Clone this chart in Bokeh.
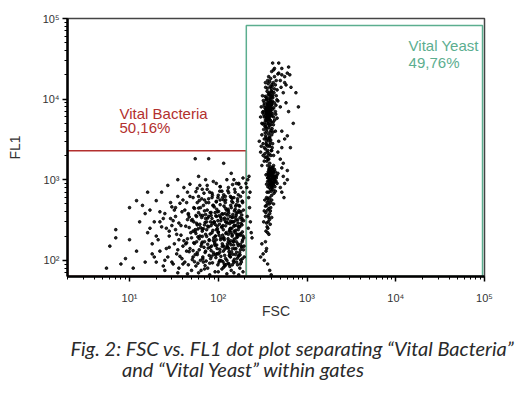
from bokeh.plotting import figure
from bokeh.models import (FixedTicker, CustomJSTickFormatter, Label, Title, ColumnDataSource)
from bokeh.embed import file_html
from bokeh.resources import INLINE

# ---------------- data ----------------
bact_fsc = [45,62,78,55,90,110,70,38,85,120, 50,65,95,130,150,175,42,58,88,105,
            140,160,185,33,72,48,115,135,160,190, 28,36,52,68,82,100,125,145,170,195,
            60,80,100,120,150,170,40,30,25,22, 57,66,74,92,108,128,142,155,180,165,
            47,53,76,98,112,138,62,84,44,39, 70,88,102,118,132,148,165,182,28,34,
            56,64,76,92,110,140,175,50,40,25, 63,78,96,116,136,152,188,26,31,46,
            54,67,81,103,124,146,168,190,35,45, 58,75,95,130,160,110,85,70,120,180,
            20,18,22,30,24,19,36,43,49,57, 83,93,106,127,133,158,172,186,178,196,
            6,7,7,9,10,10,12,13,15,16, 17,14,12,20,23,27,35,48,60,55,
            78,115,150,190,8,5.5,11,15,16,140,
            42,51,59,67,73,79,86,94,99,107,113,121,129,137,144,152,161,169,177,186,37,46,55,63,71,89,104,117,133,156,
            40,47,54,61,69,76,83,91,97,104,111,119,126,134,141,149,158,166,174,183,35,44,58,66,81,96,114,131,147,192,
            38,45,52,59,66,72,79,87,93,100,107,114,122,129,136,143,151,160,168,177,187,33,41,56,74,89,117,139,163,194,
            36,43,51,58,65,71,78,85,92,99,106,113,121,128,135,143,150,158,167,176,185,29,47,63,82,97,118,146,171,193,
            39,46,53,60,68,75,83,90,98,105,113,121,130,138,146,155,164,174,184,32,56,72,94,126,160,192,
            44,52,61,69,78,86,95,104,112,121,131,142,153,165,178,37,66,99,137,186,
            62,88,105,125,170,145,72,41,
            18,21,23,26,28,30,32,34,19,24,27,31,33,20,25,29,17,22,
            45,60,80,100,125,150,170,190,70,115,35,135,
            52,58,64,71,77,84,91,97,104,111,118,125,132,139,146,153,161,168,176,184,
            55,61,68,74,81,88,95,102,109,116,123,130,137,144,151,158,165,172,180,188,
            50,57,63,70,76,83,90,96,103,110,117,124,131,138,145,152,159,166,173,181,
            54,60,67,73,80,87,94,101,108,115,122,129,136,143,150,157,164,171,179,187,
            53,59,66,72,79,86,93,100,107,114,121,128,135,142,149,156,163,170,178,185,
            48,56,65,75,85,95,105,115,128,140,155,170]
bact_fl1 = [320,280,350,240,300,260,410,270,220,380, 190,160,180,210,300,260,420,520,480,560,
            450,380,330,350,130,140,150,120,170,200, 230,180,110,95,105,120,100,140,115,150,
            620,700,640,520,600,480,560,460,380,300, 350,230,300,390,330,290,250,220,400,540,
            255,300,265,245,205,175,200,150,130,105, 170,125,95,85,90,98,88,95,145,120,
            85,75,80,72,78,75,80,75,90,100, 450,520,430,470,350,410,520,250,310,380,
            440,360,390,360,420,520,650,700,620,700, 780,850,900,800,900,720,600,560,620,800,
            200,160,130,95,85,110,80,160,220,170, 270,200,180,160,230,270,210,170,135,110,
            150,240,190,105,450,180,130,300,380,220, 420,480,550,550,700,850,1000,880,1100,1820,
            1820,1600,1000,1050,90,80,80,95,700,1200,
            95,102,92,110,98,115,93,108,88,112,96,105,92,110,88,103,95,112,90,104,112,88,118,100,86,118,100,90,115,118,
            150,128,162,135,145,158,132,168,140,126,160,138,150,165,128,155,140,160,125,148,135,165,125,168,145,155,130,140,170,135,
            205,185,230,195,245,210,180,235,200,225,190,240,215,185,245,200,230,190,240,205,225,240,175,215,240,190,180,220,210,190,
            290,265,320,275,340,295,260,330,280,310,345,270,300,325,285,340,265,315,290,340,275,330,345,255,300,265,335,300,260,310,
            400,370,450,390,480,420,360,460,400,490,375,440,410,480,370,430,395,470,365,420,360,370,355,365,490,420,
            520,600,550,680,580,640,530,720,600,560,690,540,760,580,620,510,760,600,620,540,
            850,950,820,1000,880,870,1000,800,
            120,180,260,140,200,270,160,210,300,330,110,90,450,95,75,520,250,400,
            68,70,66,72,68,70,66,72,78,82,70,84,
            132,118,150,125,142,112,158,121,137,149,115,144,128,156,119,139,126,152,117,146,
            228,185,247,198,212,176,239,205,258,190,221,172,250,208,183,236,195,264,214,179,
            312,288,365,275,334,392,298,351,280,377,320,296,385,306,342,271,359,318,393,287,
            96,445,104,520,92,480,118,405,99,560,88,430,112,590,94,470,106,415,101,540,
            165,245,198,330,176,288,152,222,310,186,268,145,236,298,172,341,205,262,158,315,
            620,710,580,760,680,540,820,650,730,600,700,900]

yeast_fsc = [330,350,370,360,340,380,400,390,410,350, 320,330,345,365,385,420,430,375,355,395,
             310,325,338,352,372,392,415,440,450,425, 360,345,335,375,388,402,368,382,405,418,
             440,460,470,300,305,315,342,365,390,430, 480,520,560,600,640,470,510,540,580,620,
             500,460,520,600,380,350,330,400,440,310,
             320,340,360,375,350,330,380,395,410,300, 290,310,345,365,420,305,355,385,335,370,
             380,400,420,390,410,430,370,360,440,450, 395,375,415,355,425,385,405,365,345,435,
             460,400,380,420,350,470,520,540,560,500, 390,410,372,398,428,382,360,415,445,395,
             370,350,360,380,340,365,355,345,375,390, 335,400,330,385,360,420,350,400,325,370,
             340,350,320,330,360,380,310,300,395,345,
             215,210,220,225,212,230,218,235,240,205,228,222,
             550,600,650,700,800,750,560,620,480,420,660,
             340,352,364,372,386,398,356,346,378,392, 334,348,362,376,394,408,422,412,396,384,
             328,338,326,316,322,366,402,380,358,428, 350,368,386,404,418,432,444,446,458,336,
             342,360,377,393,415,318,372,388,354,368, 330,346,362,378,392,405,352,366,338,320,
             378,402,392,418,436,408,386,424,398,372, 412,446,382,430,364,456,402,416,388,370,
             362,440,396,376,420,
             356,372,344,366,378,350,362,372,386,340,360,392,
             370,400,430,450,500,520,580,360,340,410,
             480,520,560,470,500,540,600,520,
             345,355,365,375,385,395,350,360,370,380,390,400,340,352,362,372,382,392,402,412,
             348,358,368,378,388,398,408,344,354,364,374,384,394,404,
             370,385,400,415,380,395,410,425,375,390,405,365,
             380,390,400,370,360,350]
yeast_fl1 = [9000,8000,7000,6000,5500,6500,8500,10000,7500,10500, 7000,6000,4500,5000,5500,6000,9000,12000,12500,13500,
             5000,4200,3800,4000,4400,4800,5200,7000,11000,12000, 7600,6800,7800,8800,7200,6200,9600,11000,14500,16000,
             15000,13000,9500,6000,8000,11000,14000,15500,18000,19000, 21000,20000,19000,21000,20000,20500,14000,12000,9000,7000,
             8000,5800,4000,3500,3300,3000,3200,3600,4000,3600,
             2800,2400,2600,2100,1900,1700,1600,2300,2800,2200, 3000,1500,3300,1800,2000,2600,2200,2900,2100,3100,
             1300,1200,1100,1000,900,950,1100,950,1250,1050, 850,800,750,700,680,1450,1380,1250,1150,820,
             900,640,600,1500,880,1200,1400,1100,900,800, 1150,1050,960,920,1020,1210,1050,1300,1100,720,
             550,480,420,380,350,300,260,230,500,450, 560,340,410,280,220,500,600,560,300,340,
             170,140,120,100,90,75,160,110,66,130,
             1000,800,600,450,350,300,250,220,190,900,700,1100,
             600,1300,2500,5000,8000,12000,16000,25000,28000,23000,14000,
             7200,6600,7900,6100,8200,9200,8600,9800,10200,11800, 5100,5900,5300,4700,6800,6600,7800,10400,12600,14200,
             8400,10800,6400,6800,9600,11400,15200,16500,13600,13400, 4300,3700,3900,4300,4800,5500,6500,8400,9800,4600,
             3500,3200,3400,4100,3900,4900,7400,6300,7000,8300, 2500,2800,2300,2700,2000,2500,1700,2000,1900,2000,
             1180,1090,1260,1190,1080,980,1120,900,1020,1330, 1420,960,880,1340,1180,1130,800,860,760,700,
             820,720,1380,1040,1240,
             520,440,390,360,320,290,250,210,410,470,580,520,
             19000,22000,24000,17000,17000,24000,15000,17000,16000,28000,
             3000,2500,3200,2200,1800,1600,1000,700,
             6200,7400,8100,5600,9300,7700,10100,6900,5800,7100,8900,10600,4800,5400,9100,6400,7900,5200,8600,11200,
             6600,8700,4900,6000,7300,10900,9400,7500,5700,6300,11600,9000,8300,12300,
             1150,1000,1250,1050,880,940,1120,1000,1380,1220,820,1060,
             2600,3100,2300,1800,1500,2700]

# gates: [x0, x1, y0, y1]
bact_gate = [2, 207, 63, 2280]
yeast_gate = [207, 95000, 63, 82000]
bact_text = ["Vital Bacteria", "50,16%"]
yeast_text = ["Vital Yeast", "49,76%"]

x_major = [10, 100, 1000, 10000, 100000]
y_major = [100, 1000, 10000, 100000]
x_minor = [m * 10 ** d for d in range(0, 5) for m in range(2, 10) if 2 <= m * 10 ** d <= 1e5]
y_minor = [m * 10 ** d for d in range(1, 5) for m in range(2, 10) if 63 <= m * 10 ** d <= 1e5]

caption_lines = ["Fig. 2: FSC vs. FL1 dot plot separating \u201cVital Bacteria\u201d",
                 "\u00a0" * 11 + "and \u201cVital Yeast\u201d within gates"]

RED = "#b3302e"
GREEN = "#5cae8f"

p = figure(width=526, height=394, x_axis_type="log", y_axis_type="log",
           x_range=(2, 1e5), y_range=(63, 1e5),
           output_backend="svg", toolbar_location=None,
           min_border_left=67, min_border_right=42, min_border_top=18, min_border_bottom=118)
p.background_fill_color = "white"
p.border_fill_color = "white"
p.grid.visible = False
p.outline_line_color = "#444444"
p.outline_line_width = 1.5

fmt = CustomJSTickFormatter(code="""
const sup = {"0":"\u2070","1":"\u00b9","2":"\u00b2","3":"\u00b3","4":"\u2074","5":"\u2075"};
const e = Math.round(Math.log10(tick));
return "10" + sup[String(e)];
""")

for ax, maj, mn in ((p.xaxis[0], x_major, x_minor), (p.yaxis[0], y_major, y_minor)):
    ax.ticker = FixedTicker(ticks=maj, minor_ticks=mn)
    ax.formatter = fmt
    ax.axis_line_width = 2.5
    ax.axis_line_color = "black"
    ax.major_tick_line_color = "black"
    ax.minor_tick_line_color = "black"
    ax.major_tick_line_width = 1.5
    ax.minor_tick_line_width = 1
    ax.major_tick_out = 5
    ax.major_tick_in = 0
    ax.minor_tick_out = 3
    ax.minor_tick_in = 0
    ax.major_label_text_font = "Liberation Sans"
    ax.major_label_text_font_size = "11px"
    ax.major_label_text_color = "#333333"
    ax.axis_label_text_font = "Liberation Sans"
    ax.axis_label_text_font_size = "14px"
    ax.axis_label_text_font_style = "normal"
    ax.axis_label_text_color = "#333333"

p.xaxis.axis_label = "FSC"
p.yaxis.axis_label = "FL1"
p.xaxis.major_label_standoff = 10
p.yaxis.major_label_standoff = 3
p.xaxis.axis_label_standoff = -4
p.yaxis.axis_label_standoff = 17

# gates
p.quad(left=[bact_gate[0]], right=[bact_gate[1]], bottom=[bact_gate[2]], top=[bact_gate[3]],
       fill_alpha=0, line_color=RED, line_width=1.5)
p.quad(left=[yeast_gate[0]], right=[yeast_gate[1]], bottom=[yeast_gate[2]], top=[yeast_gate[3]],
       fill_alpha=0, line_color=GREEN, line_width=1.5)

# dots
src = ColumnDataSource(dict(x=bact_fsc + yeast_fsc, y=bact_fl1 + yeast_fl1))
p.scatter("x", "y", source=src, size=2.7, color="black", alpha=0.85)

# gate texts
for xx, yy, t, c in ((7.7, 6710, bact_text[0], RED), (7.7, 4390, bact_text[1], RED),
                     (13960, 46400, yeast_text[0], GREEN), (13960, 28200, yeast_text[1], GREEN)):
    p.add_layout(Label(x=xx, y=yy, text=t, text_color=c, text_font="Liberation Sans",
                       text_font_size="15px", text_baseline="alphabetic"))

# caption: one two-line title below the x axis
cap = Title(text="\n".join(caption_lines), align="left", offset=3, standoff=24,
            text_font="Lato", text_font_style="italic", text_font_size="20px",
            text_color="#2a2a2a", text_line_height=0.9)
p.add_layout(cap, "below")

open("out.html", "w").write(file_html(p, INLINE))
